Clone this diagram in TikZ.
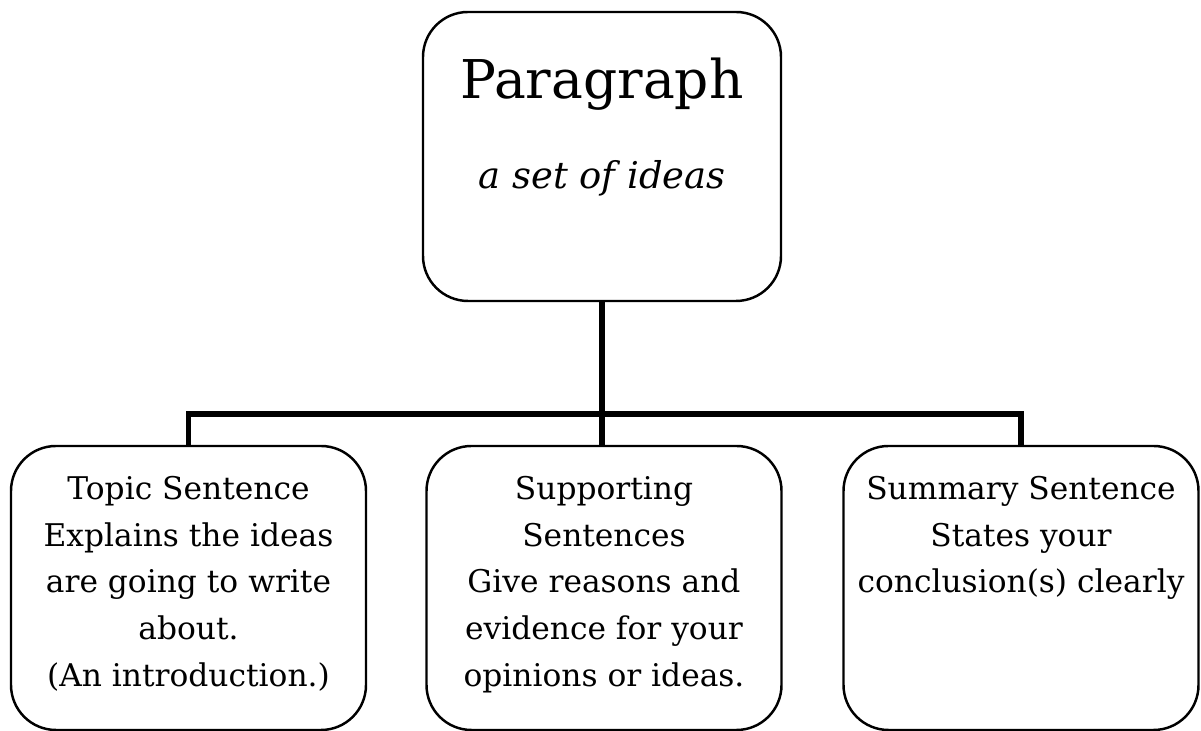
\documentclass[tikz,border=0pt]{standalone}
\usepackage{fontspec}
\setmainfont{DejaVu Serif}
\usetikzlibrary{positioning}

\tikzset{
    box/.style={draw, line width=1.4pt, rounded corners=0.9cm, minimum width=7.1cm, minimum height=5.68cm},
    bus/.style={line width=3.2pt},
    txt/.style={align=center, inner sep=0pt, font=\fontsize{17.8}{26.6}\selectfont},
}

\begin{document}
\begin{tikzpicture}
    \useasboundingbox (0, 0) rectangle (24.02, 14.62);

    \node[box, minimum width=7.16cm, minimum height=5.78cm] (para) at (12.04, 11.49) {};
    \node[inner sep=0pt, font=\fontsize{30.4}{36}\selectfont, below=0.94 of para.north] (title) {Paragraph};
    \node[inner sep=0pt, font=\fontsize{21}{26}\selectfont\itshape, below=0.98 of title] (sub) {a set of ideas};

    \node[box] (topic) at (3.77, 2.86) {};
    \node[box] (support) at (12.08, 2.86) {};
    \node[box] (summary) at (20.42, 2.86) {};

    \node[txt, below=0.62 of topic.north] (topictxt) {Topic Sentence\\Explains the ideas\\are going to write\\about.\\(An introduction.)};
    \node[txt, below=0.62 of support.north] (supporttxt) {Supporting\\Sentences\\Give reasons and\\evidence for your\\opinions or ideas.};
    \node[txt, below=0.62 of summary.north] (summarytxt) {Summary Sentence\\States your\\conclusion(s) clearly};

    \coordinate (bar) at (12.04, 6.34);
    \draw[bus] (para) -- (bar);
    \draw[bus] (topic) |- (bar) -| (summary);
    \draw[bus] (bar) -- (bar |- support.north);
\end{tikzpicture}
\end{document}
